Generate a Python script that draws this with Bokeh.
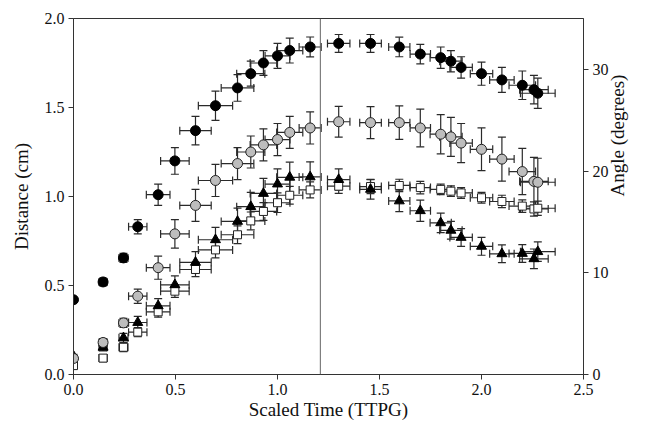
import math
from bokeh.plotting import figure
from bokeh.models import (ColumnDataSource, Whisker, TeeHead, Range1d, LinearAxis,
                          FixedTicker, Span, NumeralTickFormatter)
from bokeh.embed import file_html
from bokeh.resources import INLINE

# ---- data ----
time = [0.0, 0.145, 0.245, 0.315, 0.415, 0.497, 0.598, 0.696, 0.804, 0.869, 0.931, 1.0, 1.06,
        1.16, 1.30, 1.456, 1.597, 1.70, 1.80, 1.85, 1.90, 2.0, 2.10, 2.20, 2.257, 2.276]
time_err = [0.0, 0.02, 0.022, 0.045, 0.058, 0.07, 0.077, 0.084, 0.08, 0.069, 0.065, 0.061, 0.064,
            0.054, 0.055, 0.053, 0.052, 0.05, 0.052, 0.055, 0.055, 0.055, 0.06, 0.065, 0.07, 0.085]

black_circles = [0.42, 0.52, 0.655, 0.83, 1.01, 1.20, 1.37, 1.51, 1.61, 1.69, 1.75, 1.79, 1.82,
                 1.84, 1.86, 1.86, 1.84, 1.80, 1.78, 1.76, 1.725, 1.69, 1.655, 1.625, 1.60, 1.58]
black_err = [0.01, 0.022, 0.025, 0.04, 0.06, 0.075, 0.08, 0.082, 0.075, 0.07, 0.07, 0.07, 0.07,
             0.056, 0.05, 0.05, 0.055, 0.055, 0.06, 0.06, 0.06, 0.065, 0.07, 0.08, 0.08, 0.085]

grey_circles = [0.09, 0.18, 0.29, 0.44, 0.60, 0.79, 0.95, 1.09, 1.185, 1.25, 1.29, 1.32, 1.36,
                1.385, 1.42, 1.415, 1.415, 1.385, 1.35, 1.335, 1.30, 1.265, 1.21, 1.14, 1.085, 1.08]
grey_err = [0.01, 0.022, 0.025, 0.04, 0.065, 0.08, 0.09, 0.09, 0.09, 0.09, 0.09, 0.09, 0.09,
            0.09, 0.086, 0.09, 0.094, 0.106, 0.11, 0.11, 0.11, 0.12, 0.124, 0.13, 0.135, 0.135]

triangles = [0.103, 0.153, 0.206, 0.292, 0.386, 0.504, 0.63, 0.757, 0.86, 0.943, 1.017, 1.07, 1.108,
             1.11, 1.095, 1.04, 0.975, 0.92, 0.852, 0.81, 0.77, 0.72, 0.678, 0.68, 0.65, 0.69]
tri_err = [0.01, 0.02, 0.025, 0.035, 0.04, 0.05, 0.06, 0.07, 0.075, 0.08, 0.085, 0.085, 0.085,
           0.085, 0.06, 0.055, 0.06, 0.06, 0.055, 0.05, 0.05, 0.05, 0.05, 0.05, 0.055, 0.055]

squares = [0.05, 0.092, 0.153, 0.238, 0.352, 0.468, 0.59, 0.70, 0.785, 0.863, 0.916, 0.965, 1.007,
           1.037, 1.058, 1.056, 1.062, 1.05, 1.04, 1.03, 1.02, 0.993, 0.972, 0.946, 0.93, 0.934]
sq_err = [0.01, 0.02, 0.025, 0.025, 0.03, 0.035, 0.04, 0.045, 0.05, 0.05, 0.05, 0.055, 0.05,
          0.045, 0.04, 0.04, 0.035, 0.035, 0.03, 0.03, 0.03, 0.03, 0.035, 0.035, 0.04, 0.04]

divider_time = 1.21
x_ticks = [0.0, 0.5, 1.0, 1.5, 2.0, 2.5]
y_ticks = [0.0, 0.5, 1.0, 1.5, 2.0]
angle_ticks = [0, 10, 20, 30]

FONT = "Liberation Serif"
AX = "#333333"

p = figure(frame_width=510, frame_height=356, output_backend="svg", toolbar_location=None,
           x_range=Range1d(0, 2.5), y_range=Range1d(0, 2.0),
           min_border_left=73, min_border_right=64, min_border_top=18, min_border_bottom=52)
p.width = 647
p.height = 426
p.xgrid.visible = False
p.ygrid.visible = False
p.outline_line_color = AX
p.outline_line_width = 1
p.background_fill_color = "white"
p.border_fill_color = "white"

p.extra_y_ranges = {"angle": Range1d(0, 35)}
right = LinearAxis(y_range_name="angle", ticker=FixedTicker(ticks=angle_ticks),
                   axis_label="Angle (degrees)")
p.add_layout(right, "right")

p.xaxis.ticker = FixedTicker(ticks=x_ticks)
p.yaxis[0].ticker = FixedTicker(ticks=y_ticks)
p.xaxis.formatter = NumeralTickFormatter(format="0.0")
p.yaxis[0].formatter = NumeralTickFormatter(format="0.0")
p.xaxis.axis_label = "Scaled Time (TTPG)"
p.yaxis[0].axis_label = "Distance (cm)"

for ax in p.xaxis + p.yaxis:
    ax.axis_line_color = AX
    ax.major_tick_line_color = AX
    ax.major_tick_out = 5
    ax.major_tick_in = 0
    ax.minor_tick_line_color = None
    ax.major_label_text_font = FONT
    ax.major_label_text_font_size = "16px"
    ax.major_label_text_color = "#111111"
    ax.axis_label_text_font = FONT
    ax.axis_label_text_font_size = "19px"
    ax.axis_label_text_font_style = "normal"
    ax.axis_label_text_color = "#111111"
    ax.major_label_standoff = 4
p.xaxis.axis_label_standoff = 1
p.yaxis[0].axis_label_standoff = 10
right.axis_label_standoff = 6
right.axis_label_orientation = math.pi / 2

p.add_layout(Span(location=divider_time, dimension="height", line_color="#666666", line_width=1))

ERR = "#2a2a2a"

def add_series(yvals, yerr):
    src = ColumnDataSource(dict(
        x=time, y=yvals,
        xl=[a - e for a, e in zip(time, time_err)], xu=[a + e for a, e in zip(time, time_err)],
        yl=[a - e for a, e in zip(yvals, yerr)], yu=[a + e for a, e in zip(yvals, yerr)],
    ))
    wy = Whisker(source=src, base="x", lower="yl", upper="yu", dimension="height",
                 line_color=ERR, line_width=1.2,
                 upper_head=TeeHead(size=8, line_color=ERR, line_width=1.2),
                 lower_head=TeeHead(size=8, line_color=ERR, line_width=1.2))
    wx = Whisker(source=src, base="y", lower="xl", upper="xu", dimension="width",
                 line_color=ERR, line_width=1.2,
                 upper_head=TeeHead(size=8, line_color=ERR, line_width=1.2),
                 lower_head=TeeHead(size=8, line_color=ERR, line_width=1.2))
    p.add_layout(wy)
    p.add_layout(wx)
    return src

s_sq = add_series(squares, sq_err)
s_tri = add_series(triangles, tri_err)
s_grey = add_series(grey_circles, grey_err)
s_black = add_series(black_circles, black_err)

p.scatter("x", "y", source=s_sq, marker="square", size=8, fill_color="white",
          line_color="#222222", line_width=1)
p.scatter("x", "y", source=s_tri, marker="triangle", size=10, fill_color="black",
          line_color="black", line_width=1)
p.scatter("x", "y", source=s_grey, marker="circle", size=10, fill_color="#bdbdbd",
          line_color="#222222", line_width=1)
p.scatter("x", "y", source=s_black, marker="circle", size=10, fill_color="black",
          line_color="black", line_width=1)

open("out.html", "w").write(file_html(p, INLINE))
